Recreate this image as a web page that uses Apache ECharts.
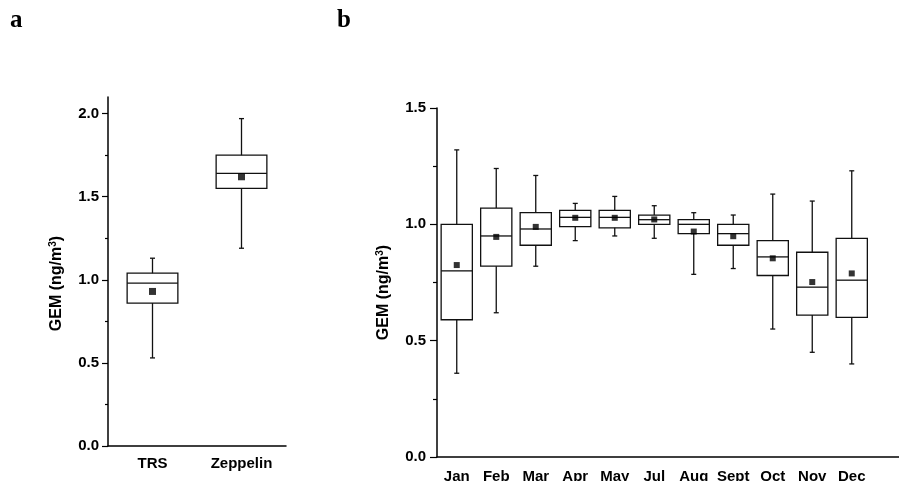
<!DOCTYPE html>
<html>
<head>
<meta charset="utf-8">
<script src="https://cdn.jsdelivr.net/npm/echarts@6/dist/echarts.min.js"></script>
<style>
html,body{margin:0;padding:0;background:#fff;}
#chart{width:899px;height:481px;}
</style>
</head>
<body>
<div id="chart"></div>
<script>
// ---- Panel a data ----
const sitesA = ['TRS', 'Zeppelin'];
const minA  = [0.53, 1.19];
const q1A   = [0.86, 1.55];
const medA  = [0.98, 1.64];
const q3A   = [1.04, 1.75];
const maxA  = [1.13, 1.97];
const meanA = [0.93, 1.62];
const ticksA = [0, 0.5, 1.0, 1.5, 2.0];
const minorTicksA = [0.25, 0.75, 1.25, 1.75];

// ---- Panel b data ----
const months = ['Jan', 'Feb', 'Mar', 'Apr', 'May', 'Jul', 'Aug', 'Sept', 'Oct', 'Nov', 'Dec', ''];
const minB  = [0.36, 0.62, 0.82, 0.93, 0.95, 0.94, 0.785, 0.81, 0.55, 0.45, 0.40];
const q1B   = [0.59, 0.82, 0.91, 0.99, 0.985, 1.00, 0.96, 0.91, 0.78, 0.61, 0.60];
const medB  = [0.80, 0.95, 0.98, 1.03, 1.03, 1.02, 1.00, 0.96, 0.86, 0.73, 0.76];
const q3B   = [1.00, 1.07, 1.05, 1.06, 1.06, 1.04, 1.02, 1.00, 0.93, 0.88, 0.94];
const maxB  = [1.32, 1.24, 1.21, 1.09, 1.12, 1.08, 1.05, 1.04, 1.13, 1.10, 1.23];
const meanB = [0.825, 0.946, 0.989, 1.028, 1.028, 1.021, 0.969, 0.949, 0.854, 0.752, 0.789];

const FONT = 'Liberation Sans';
const LINE = '#111';

function boxRows(mn, q1, md, q3, mx) {
  return mn.map((v, i) => [i, v, q1[i], md[i], q3[i], mx[i]]);
}

function makeRender(widthFrac, capW) {
  return function (params, api) {
    const x = api.value(0);
    const band = api.size([1, 0])[0];
    const w = band * widthFrac;
    const pMin = api.coord([x, api.value(1)]);
    const pQ1 = api.coord([x, api.value(2)]);
    const pMed = api.coord([x, api.value(3)]);
    const pQ3 = api.coord([x, api.value(4)]);
    const pMax = api.coord([x, api.value(5)]);
    const cx = pMed[0];
    const st = { stroke: LINE, lineWidth: 1.3, fill: null };
    return {
      type: 'group',
      children: [
        { type: 'rect', shape: { x: cx - w / 2, y: pQ3[1], width: w, height: pQ1[1] - pQ3[1] }, style: { stroke: LINE, lineWidth: 1.3, fill: '#fff' } },
        { type: 'line', shape: { x1: cx - w / 2, y1: pMed[1], x2: cx + w / 2, y2: pMed[1] }, style: st },
        { type: 'line', shape: { x1: cx, y1: pQ3[1], x2: cx, y2: pMax[1] }, style: st },
        { type: 'line', shape: { x1: cx, y1: pQ1[1], x2: cx, y2: pMin[1] }, style: st },
        { type: 'line', shape: { x1: cx - capW / 2, y1: pMax[1], x2: cx + capW / 2, y2: pMax[1] }, style: st },
        { type: 'line', shape: { x1: cx - capW / 2, y1: pMin[1], x2: cx + capW / 2, y2: pMin[1] }, style: st }
      ]
    };
  };
}

const axisLineStyle = { color: '#000', width: 1.5 };
const nameRich = {
  sup: { fontFamily: FONT, fontWeight: 'bold', fontSize: 10, verticalAlign: 'top', padding: [0, 0, 8, 0], color: '#000' }
};

const chart = echarts.init(document.getElementById('chart'), null, { renderer: 'canvas' });
chart.setOption({
  backgroundColor: '#fff',
  animation: false,
  title: [
    { text: 'a', left: 5, top: 3, textStyle: { fontFamily: 'Liberation Serif', fontWeight: 'bold', fontSize: 25, color: '#000' } },
    { text: 'b', left: 332, top: 3, textStyle: { fontFamily: 'Liberation Serif', fontWeight: 'bold', fontSize: 25, color: '#000' } }
  ],
  grid: [
    { left: 108, top: 97, width: 178, height: 349, containLabel: false, outerBoundsMode: 'none' },
    { left: 437, top: 108, width: 474, height: 349, containLabel: false, outerBoundsMode: 'none' }
  ],
  xAxis: [
    {
      type: 'category', gridIndex: 0, data: sitesA, boundaryGap: true,
      axisLine: { lineStyle: axisLineStyle },
      axisTick: { alignWithLabel: true, interval: 0, length: 6, lineStyle: { color: '#000', width: 1.2 } },
      axisLabel: { interval: 0, margin: 10, color: '#000', fontFamily: FONT, fontWeight: 'bold', fontSize: 15 },
      splitLine: { show: false }
    },
    {
      type: 'category', gridIndex: 1, data: months, boundaryGap: true,
      axisLine: { lineStyle: axisLineStyle },
      axisTick: { alignWithLabel: true, interval: 0, length: 6, lineStyle: { color: '#000', width: 1.2 } },
      axisLabel: { interval: 0, margin: 12, color: '#000', fontFamily: FONT, fontWeight: 'bold', fontSize: 15 },
      splitLine: { show: false }
    }
  ],
  yAxis: [
    {
      type: 'value', gridIndex: 0, min: 0, max: 2.1,
      name: 'GEM (ng/m{sup|3})', nameLocation: 'middle', nameGap: 42, nameRotate: 90,
      nameTextStyle: { fontFamily: FONT, fontWeight: 'bold', fontSize: 16, color: '#000', padding: [0, 24, 0, 0], rich: nameRich },
      axisLine: { show: true, lineStyle: axisLineStyle },
      axisTick: { show: true, length: 6, customValues: ticksA, lineStyle: { color: '#000', width: 1.2 } },
      axisLabel: { customValues: ticksA, margin: 9, color: '#000', fontFamily: FONT, fontWeight: 'bold', fontSize: 15, formatter: v => v.toFixed(1) },
      splitLine: { show: false }
    },
    {
      type: 'value', gridIndex: 0, min: 0, max: 2.1, position: 'left',
      axisLine: { show: false },
      axisTick: { show: true, length: 3, customValues: minorTicksA, lineStyle: { color: '#000', width: 1.2 } },
      axisLabel: { show: false },
      splitLine: { show: false }
    },
    {
      type: 'value', gridIndex: 1, min: 0, max: 1.5, interval: 0.5,
      name: 'GEM (ng/m{sup|3})', nameLocation: 'middle', nameGap: 44, nameRotate: 90,
      nameTextStyle: { fontFamily: FONT, fontWeight: 'bold', fontSize: 16, color: '#000', padding: [0, 20, 0, 0], rich: nameRich },
      axisLine: { show: true, lineStyle: axisLineStyle },
      axisTick: { show: true, length: 7, lineStyle: { color: '#000', width: 1.2 } },
      minorTick: { show: true, splitNumber: 2, length: 4, lineStyle: { color: '#000', width: 1.2 } },
      axisLabel: { margin: 11, color: '#000', fontFamily: FONT, fontWeight: 'bold', fontSize: 15, formatter: v => v.toFixed(1) },
      splitLine: { show: false },
      minorSplitLine: { show: false }
    }
  ],
  series: [
    {
      type: 'custom', xAxisIndex: 0, yAxisIndex: 0,
      renderItem: makeRender(0.57, 5),
      encode: { x: 0, y: [1, 2, 3, 4, 5] },
      data: boxRows(minA, q1A, medA, q3A, maxA),
      z: 2
    },
    {
      type: 'scatter', xAxisIndex: 0, yAxisIndex: 0, symbol: 'rect', symbolSize: 7,
      itemStyle: { color: '#000' },
      data: meanA.map((v, i) => [i, v]),
      z: 5
    },
    {
      type: 'custom', xAxisIndex: 1, yAxisIndex: 2,
      renderItem: makeRender(0.79, 5),
      encode: { x: 0, y: [1, 2, 3, 4, 5] },
      data: boxRows(minB, q1B, medB, q3B, maxB),
      z: 2
    },
    {
      type: 'scatter', xAxisIndex: 1, yAxisIndex: 2, symbol: 'rect', symbolSize: 6,
      itemStyle: { color: '#000' },
      data: meanB.map((v, i) => [i, v]),
      z: 5
    }
  ]
});
</script>
</body>
</html>
